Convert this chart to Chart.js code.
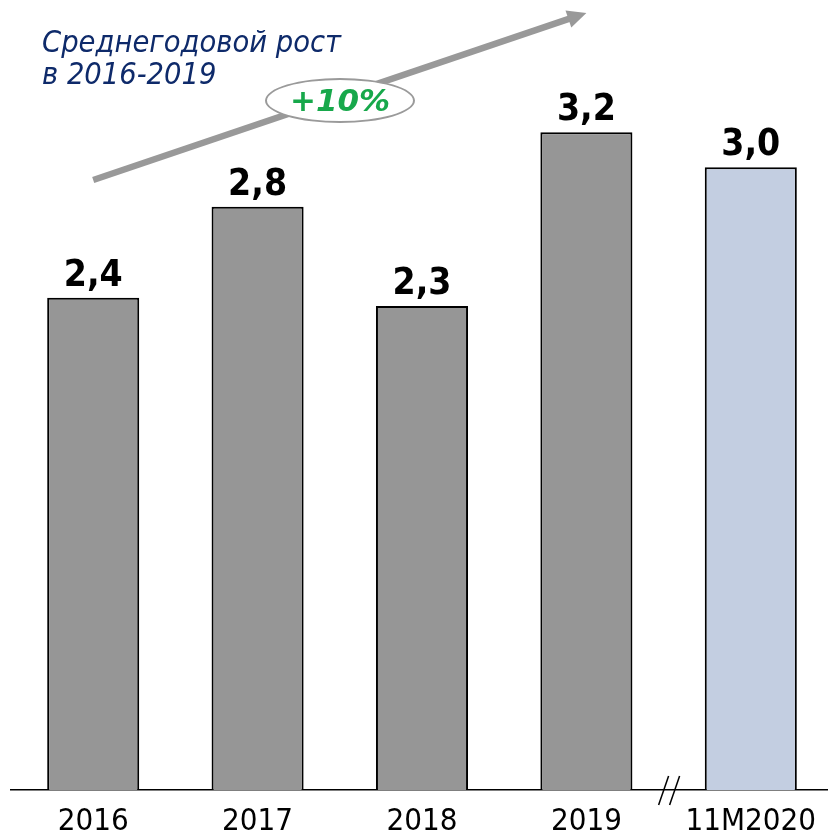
<!DOCTYPE html>
<html>
<head>
<meta charset="utf-8">
<script src="https://cdn.jsdelivr.net/npm/chart.js@4"></script>
<style>
  html, body { margin: 0; padding: 0; background: #fff; }
  #wrap { position: relative; width: 828px; height: 836px; overflow: hidden; }
  #chart { position: absolute; left: 0; top: 0; }
  .title {
    position: absolute; left: 42px; top: 26px;
    font: italic 30.5px "DejaVu Sans Condensed", "DejaVu Sans", sans-serif;
    line-height: 32px; color: #0e2a6a; white-space: nowrap;
  }
  .growth {
    position: absolute; left: 265px; top: 78px; width: 150px; height: 45px;
    box-sizing: border-box; border: 2px solid #9a9a9a; border-radius: 50%;
    background: #fff; color: #17a84b; text-align: center;
    font: italic bold 31px "DejaVu Sans", sans-serif; line-height: 41px;
  }
</style>
</head>
<body>
<div id="wrap">
  <canvas id="chart" width="840" height="836"></canvas>
  <div class="title">Среднегодовой рост<br>в 2016-2019</div>
  <div class="growth">+10%</div>
</div>
<script>
const categories = ["2016", "2017", "2018", "2019", "11M2020"];
const values = [2.38, 2.82, 2.34, 3.18, 3.01];
const valueLabels = ["2,4", "2,8", "2,3", "3,2", "3,0"];
const barColors = ["#969696", "#969696", "#969696", "#969696", "#c3cee1"];

// value labels above bars
const labelPlugin = {
  id: "valueLabels",
  afterDatasetsDraw(chart) {
    const ctx = chart.ctx;
    const bars = chart.getDatasetMeta(0).data;
    ctx.save();
    ctx.font = 'bold 37px "DejaVu Sans Condensed", "DejaVu Sans", sans-serif';
    ctx.fillStyle = "#000";
    ctx.textAlign = "center";
    ctx.textBaseline = "alphabetic";
    bars.forEach((bar, i) => {
      ctx.fillText(valueLabels[i], bar.x, bar.y - 12);
    });
    ctx.restore();
  }
};

// growth arrow and axis break
const decoPlugin = {
  id: "deco",
  afterDraw(chart) {
    const ctx = chart.ctx;
    const x = chart.scales.x;
    const base = chart.chartArea.bottom;

    // axis break between 2019 and 11M2020
    const bx = (x.getPixelForValue(3) + x.getPixelForValue(4)) / 2;
    ctx.save();
    ctx.strokeStyle = "#000";
    ctx.lineWidth = 1.5;
    [-5, 6].forEach(dx => {
      ctx.beginPath();
      ctx.moveTo(bx + dx - 5, base + 15);
      ctx.lineTo(bx + dx + 5, base - 14);
      ctx.stroke();
    });
    ctx.restore();

    // arrow over 2016-2019
    const x0 = x.getPixelForValue(0), y0 = 180;
    const x1 = x.getPixelForValue(3), y1 = 13;
    const ang = Math.atan2(y1 - y0, x1 - x0);
    const head = 19;
    const sx = x1 - head * Math.cos(ang), sy = y1 - head * Math.sin(ang);
    ctx.save();
    ctx.strokeStyle = "#999";
    ctx.fillStyle = "#999";
    ctx.lineWidth = 6.5;
    ctx.beginPath();
    ctx.moveTo(x0, y0);
    ctx.lineTo(sx + 2 * Math.cos(ang), sy + 2 * Math.sin(ang));
    ctx.stroke();
    ctx.beginPath();
    ctx.moveTo(x1, y1);
    ctx.lineTo(sx + 9 * Math.sin(ang), sy - 9 * Math.cos(ang));
    ctx.lineTo(sx - 9 * Math.sin(ang), sy + 9 * Math.cos(ang));
    ctx.closePath();
    ctx.fill();
    ctx.restore();
  }
};

new Chart(document.getElementById("chart"), {
  type: "bar",
  data: {
    labels: categories,
    datasets: [{
      data: values,
      backgroundColor: barColors,
      borderColor: "#000",
      borderWidth: 2,
      categoryPercentage: 1,
      barPercentage: 0.56
    }]
  },
  options: {
    responsive: false,
    animation: false,
    layout: { padding: { top: 66, left: 11, right: 7, bottom: 0 } },
    plugins: { legend: { display: false }, tooltip: { enabled: false } },
    scales: {
      x: {
        grid: { display: false, drawTicks: false },
        border: { display: true, color: "#000", width: 1.5 },
        ticks: {
          color: "#000",
          padding: 13,
          font: { family: '"DejaVu Sans Condensed", "DejaVu Sans", sans-serif', size: 31 }
        },
        afterFit(scale) { scale.height = 46; }
      },
      y: {
        display: false,
        min: 0,
        max: 3.5
      }
    }
  },
  plugins: [labelPlugin, decoPlugin]
});
</script>
</body>
</html>
